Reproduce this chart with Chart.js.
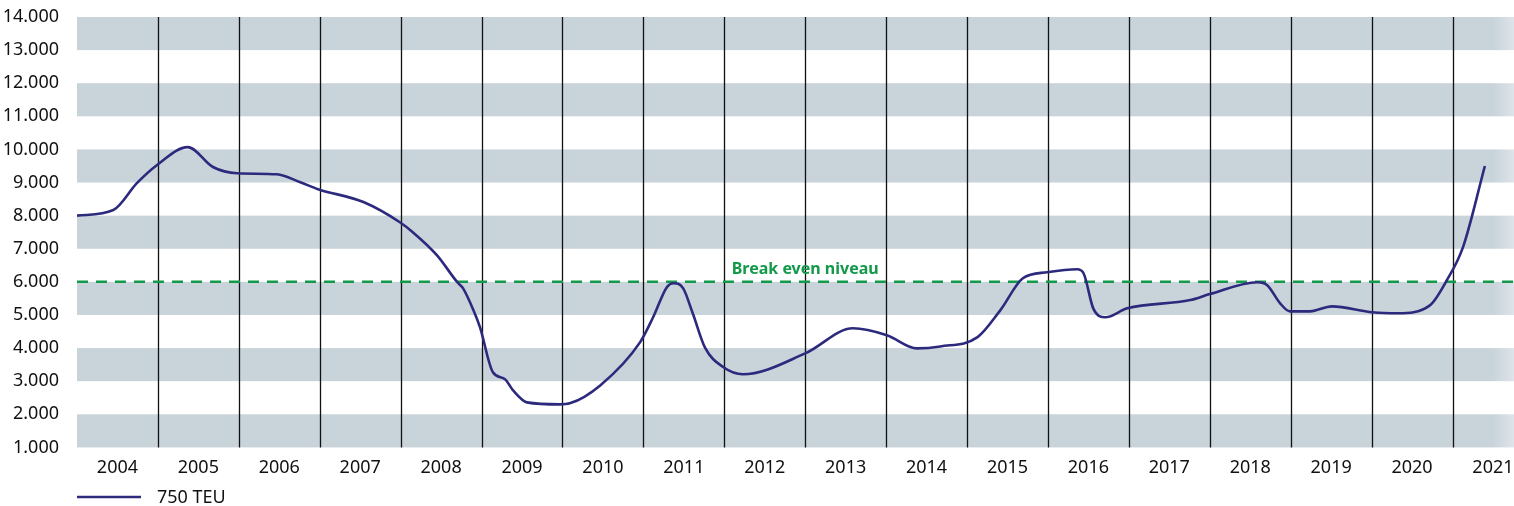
<!DOCTYPE html>
<html>
<head>
<meta charset="utf-8">
<script src="https://cdn.jsdelivr.net/npm/chart.js@4"></script>
<style>
  html, body { margin: 0; padding: 0; background: #fff; }
  #wrap { width: 1514px; height: 506px; }
</style>
</head>
<body>
<div id="wrap"><canvas id="teuChart"></canvas></div>
<script>
// year labels on the x axis
const yearLabels = [2004, 2005, 2006, 2007, 2008, 2009, 2010, 2011, 2012, 2013,
  2014, 2015, 2016, 2017, 2018, 2019, 2020, 2021];

// time position of each reading (decimal year)
const timePoints = [2004.00, 2004.45, 2004.74, 2004.99, 2005.37, 2005.68, 2005.98,
  2006.47, 2006.76, 2006.98, 2007.54, 2007.99, 2008.15, 2008.45, 2008.70, 2008.77,
  2008.90, 2008.98, 2009.14, 2009.29, 2009.39, 2009.56, 2009.97, 2010.09, 2010.47,
  2010.96, 2011.12, 2011.29, 2011.37, 2011.49, 2011.61, 2011.76, 2011.99, 2012.23,
  2013.00, 2013.59, 2014.01, 2014.38, 2014.67, 2015.13, 2015.41, 2015.69, 2015.99,
  2016.36, 2016.44, 2016.56, 2016.71, 2016.98, 2017.76, 2018.00, 2018.59, 2018.71,
  2018.87, 2018.99, 2019.24, 2019.51, 2020.01, 2020.32, 2020.72, 2020.93, 2021.13,
  2021.40];

// 750 TEU values
const teu750 = [8000, 8170, 8980, 9530, 10070, 9470, 9280,
  9250, 9010, 8800, 8410, 7800, 7500, 6800, 5990, 5810,
  5140, 4630, 3270, 3060, 2720, 2360, 2300, 2330, 2880,
  4180, 4930, 5840, 5960, 5810, 5050, 4020, 3420, 3210,
  3840, 4600, 4390, 3990, 4050, 4330, 5140, 6110, 6290,
  6380, 6260, 5200, 4930, 5200, 5450, 5630, 5990, 5900,
  5350, 5110, 5110, 5260, 5080, 5050, 5290, 6050, 7050,
  9500];

const breakEven = 6000;
const breakEvenLabel = "Break even niveau";
const breakEvenLabelYear = 2013.0;

const xMin = 2004;
const xMax = 2021.76;
const yTicks = [1000, 2000, 3000, 4000, 5000, 6000, 7000, 8000, 9000, 10000,
  11000, 12000, 13000, 14000];

const navy = "#2d2a7e";
const green = "#12994a";
const band = "rgb(200, 211, 218)";

function fmt(v) {
  return v.toLocaleString("de-DE");
}

// gray bands and year separators behind the lines
const backgroundPlugin = {
  id: "background",
  beforeDatasetsDraw(chart) {
    const { ctx, chartArea, scales } = chart;
    const x = scales.x;
    const y = scales.y;
    ctx.save();
    const grad = ctx.createLinearGradient(chartArea.left, 0, chartArea.right, 0);
    grad.addColorStop(0, band);
    grad.addColorStop(0.985, band);
    grad.addColorStop(1, "rgb(222, 228, 233)");
    ctx.fillStyle = grad;
    for (let v = yTicks[0]; v < yTicks[yTicks.length - 1]; v += 2000) {
      const top = y.getPixelForValue(v + 1000);
      const bottom = y.getPixelForValue(v);
      ctx.fillRect(chartArea.left, top, chartArea.right - chartArea.left, bottom - top);
    }
    ctx.strokeStyle = "#111";
    ctx.lineWidth = 1.3;
    yearLabels.slice(1).forEach((yr) => {
      const px = Math.round(x.getPixelForValue(yr)) + 0.5;
      ctx.beginPath();
      ctx.moveTo(px, chartArea.top);
      ctx.lineTo(px, chartArea.bottom);
      ctx.stroke();
    });
    ctx.restore();
  },
  afterDatasetsDraw(chart) {
    const { ctx, scales } = chart;
    ctx.save();
    ctx.fillStyle = green;
    ctx.font = "bold 16px 'Noto Sans'";
    ctx.textAlign = "center";
    ctx.textBaseline = "bottom";
    ctx.fillText(breakEvenLabel, scales.x.getPixelForValue(breakEvenLabelYear),
      scales.y.getPixelForValue(breakEven) - 4);
    ctx.restore();
  },
  afterDraw(chart) {
    const { ctx, chartArea } = chart;
    const ds = chart.data.datasets[0];
    const ly = 497;
    ctx.save();
    ctx.strokeStyle = ds.borderColor;
    ctx.lineWidth = 2.5;
    ctx.beginPath();
    ctx.moveTo(chartArea.left, ly);
    ctx.lineTo(chartArea.left + 64, ly);
    ctx.stroke();
    ctx.fillStyle = "#111";
    ctx.font = "18px 'Noto Sans'";
    ctx.textBaseline = "middle";
    ctx.fillText(ds.label, chartArea.left + 80, ly + 1);
    ctx.restore();
  },
};

const data = {
  datasets: [
    {
      label: "750 TEU",
      data: timePoints.map((t, i) => ({ x: t, y: teu750[i] })),
      borderColor: navy,
      borderWidth: 2.6,
      pointRadius: 0,
      cubicInterpolationMode: "monotone",
    },
    {
      label: "Break even",
      data: [{ x: xMin, y: breakEven }, { x: xMax, y: breakEven }],
      borderColor: green,
      borderWidth: 2.5,
      borderDash: [11, 8],
      pointRadius: 0,
    },
  ],
};

const config = {
  type: "line",
  data,
  options: {
    responsive: true,
    maintainAspectRatio: false,
    animation: false,
    layout: { padding: { top: 17, right: 0, bottom: 25, left: 0 } },
    plugins: {
      legend: { display: false },
      tooltip: { enabled: false },
    },
    scales: {
      x: {
        type: "linear",
        min: xMin,
        max: xMax,
        grid: { display: false },
        border: { display: false },
        afterBuildTicks(axis) {
          axis.ticks = yearLabels.map((yr) => ({ value: yr + 0.5 }));
        },
        afterFit(axis) {
          axis.paddingRight = 0;
        },
        ticks: {
          autoSkip: false,
          maxRotation: 0,
          padding: 2,
          color: "#111",
          font: { family: "'Noto Sans'", size: 18 },
          callback: (v) => String(Math.floor(v)),
        },
      },
      y: {
        min: 1000,
        max: 14000,
        grid: { display: false },
        border: { display: false },
        afterBuildTicks(axis) {
          axis.ticks = yTicks.map((v) => ({ value: v }));
        },
        afterFit(axis) {
          axis.width = 77;
          axis.paddingTop = 0;
          axis.paddingBottom = 0;
        },
        ticks: {
          padding: 10,
          color: "#111",
          font: { family: "'Noto Sans'", size: 18 },
          callback: (v) => fmt(v),
        },
      },
    },
  },
  plugins: [backgroundPlugin],
};

new Chart(document.getElementById("teuChart"), config);
</script>
</body>
</html>
